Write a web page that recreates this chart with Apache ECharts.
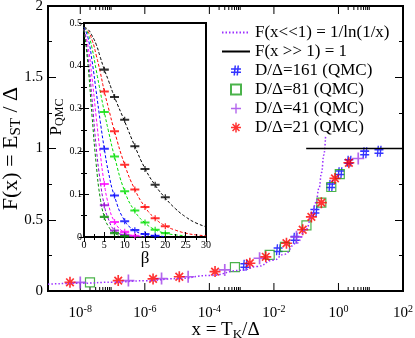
<!DOCTYPE html>
<html lang="en">
<head>
<meta charset="UTF-8" />
<title>F(x) = E_ST / Delta</title>
<style>
  html, body { margin: 0; padding: 0; background: #fff; }
  #main { width: 415px; height: 338px; }
</style>
</head>
<body>
<div id="main"></div>
<script src="https://cdn.jsdelivr.net/npm/echarts@6/dist/echarts.min.js"></script>
<script>
  var SERIF = "'Liberation Serif', 'DejaVu Serif', serif";

  // ---- main panel : x = T_K / Delta  ->  F(x)
  // curve F(x<<1)
  var smallXFit = [
    [1e-9, 0.048], [1e-8, 0.054], [1e-7, 0.062], [1e-6, 0.072], [1e-5, 0.087],
    [1e-4, 0.109], [1e-3, 0.145], [3e-3, 0.172], [1e-2, 0.217], [2e-2, 0.256],
    [5e-2, 0.334], [0.1, 0.434], [0.15, 0.527], [0.2, 0.621], [0.25, 0.721],
    [0.3, 0.831], [0.35, 0.952], [0.4, 1.09]
  ];
  var largeXFit = [[0.1, 1], [100, 1]];

  var qmc161 = [
    [1.26e-3, 0.18], [0.0135, 0.29], [0.045, 0.37], [0.186, 0.56], [0.575, 0.74],
    [1.1, 0.83], [2.1, 0.91], [6.5, 0.97], [18, 0.98]
  ];
  var qmc81 = [
    [2.0e-8, 0.06], [6.2e-4, 0.167], [7.4e-3, 0.254], [0.022, 0.31], [0.102, 0.46],
    [0.295, 0.62], [0.6, 0.73], [1.1, 0.82]
  ];
  var qmc41 = [
    [1.0e-8, 0.06], [3.1e-7, 0.073], [3.3e-6, 0.087], [2.2e-5, 0.10], [3.0e-4, 0.148],
    [3.6e-3, 0.23], [0.05, 0.38], [4.1, 0.93]
  ];
  var qmc21 = [
    [4.8e-9, 0.061], [1.5e-7, 0.073], [1.8e-6, 0.085], [1.17e-5, 0.10], [1.5e-4, 0.136],
    [1.8e-3, 0.195], [5.6e-3, 0.24], [0.0245, 0.335], [0.078, 0.43], [0.145, 0.52],
    [0.295, 0.62], [0.78, 0.79], [2.1, 0.90]
  ];

  // decade ticks of the log axis (drawn on bottom and top)
  var xMajorTicks = [1e-8, 1e-6, 1e-4, 1e-2, 1];
  var xMinorTicks = [
    2e-8, 3e-8, 4e-8, 5e-8, 6e-8, 7e-8, 8e-8, 9e-8,
    2e-4, 3e-4, 4e-4, 5e-4, 6e-4, 7e-4, 8e-4, 9e-4,
    2, 3, 4, 5, 6, 7, 8, 9
  ];

  // ---- inset : P_QMC vs beta
  var betaFit = [0, 1, 2, 3, 4, 5, 6, 7.5, 10, 12.5, 15, 17.5, 20, 22.5, 25, 27.5, 30];
  var fitBlack   = [0.49, 0.485, 0.47, 0.45, 0.42, 0.391, 0.366, 0.327, 0.270, 0.212, 0.160, 0.121, 0.091, 0.066, 0.047, 0.033, 0.024];
  var fitRed     = [0.49, 0.48, 0.46, 0.425, 0.385, 0.340, 0.302, 0.247, 0.169, 0.111, 0.070, 0.043, 0.026, 0.016, 0.009, 0.005, 0.003];
  var fitGreen   = [0.49, 0.475, 0.44, 0.39, 0.34, 0.292, 0.248, 0.188, 0.107, 0.060, 0.033, 0.017, 0.009, 0.005, 0.003];
  var fitBlue    = [0.49, 0.465, 0.41, 0.34, 0.27, 0.206, 0.152, 0.095, 0.038, 0.015, 0.006, 0.003, 0.001];
  var fitMagenta = [0.485, 0.445, 0.37, 0.28, 0.195, 0.124, 0.077, 0.036, 0.010, 0.003, 0.001];
  var fitViolet  = [0.485, 0.42, 0.32, 0.21, 0.13, 0.074, 0.042, 0.016, 0.004, 0.001, 0];
  var fitGreen4  = [0.485, 0.40, 0.28, 0.17, 0.09, 0.047, 0.025, 0.009, 0.002, 0, 0];

  var betaQmc = [5, 7.5, 10, 12.5, 15, 17.5, 20];
  var pBlack   = [0.391, 0.327, 0.274, 0.212, 0.159, 0.122, 0.093];
  var pRed     = [0.340, 0.247, 0.169, 0.111, 0.070, 0.044, 0.025];
  var pGreen   = [0.292, 0.188, 0.107, 0.062, 0.034, 0.017, 0.009];
  var pBlue    = [0.206, 0.097, 0.037, 0.016, 0.007, 0.003];
  var pMagenta = [0.124, 0.035, 0.012, 0.003];
  var pViolet  = [0.074, 0.015, 0.005];
  var pGreen4  = [0.047, 0.009, 0.002];

  // marker shapes
  var hashSym = 'path://M3.5,0h1.5l-1,10h-1.5z M6.5,0h1.5l-1,10h-1.5z M0,2.8h10v1.4h-10z M0,6h10v1.4h-10z';
  var plusSym = 'path://M4.3,0h1.4v10h-1.4z M0,4.3h10v1.4h-10z';
  var starSym = 'path://M4.25,0h1.5v10h-1.5z M0,4.25h10v1.5h-10z M1,2.1L2.1,1L9,7.9L7.9,9z M7.9,1L9,2.1L2.1,9L1,7.9z';
  var errSym  = 'path://M6,0h2v7h-2z M0,2.3h14v2.4h-14z';

  function pairs(xs, ys) {
    return ys.map(function (y, i) { return [xs[i], y]; });
  }

  function tickRenderer(len) {
    return function (params, api) {
      var x = api.coord([api.value(0), 1])[0];
      var cs = params.coordSys;
      var st = { stroke: '#000', lineWidth: 1 };
      return {
        type: 'group',
        children: [
          { type: 'line', shape: { x1: x, y1: cs.y + cs.height, x2: x, y2: cs.y + cs.height - len }, style: st },
          { type: 'line', shape: { x1: x, y1: cs.y, x2: x, y2: cs.y + len }, style: st }
        ]
      };
    };
  }

  function insetFit(name, ys, color) {
    return {
      name: name, type: 'line', xAxisIndex: 1, yAxisIndex: 2, z: 5,
      data: pairs(betaFit, ys), smooth: true, symbol: 'none', silent: true,
      lineStyle: { color: color, width: 1, type: [3, 2] }
    };
  }
  function insetQmc(name, ys, color) {
    return {
      name: name, type: 'scatter', xAxisIndex: 1, yAxisIndex: 2, z: 6,
      data: pairs(betaQmc, ys), symbol: errSym, symbolSize: [9, 6],
      itemStyle: { color: color }
    };
  }

  var insetTick = { inside: true, length: 5, lineStyle: { color: '#000' } };
  var insetMinor = { show: true, splitNumber: 2, length: 3, lineStyle: { color: '#000' } };

  var myChart = echarts.init(document.getElementById('main'));
  var option = {
    animation: false,
    backgroundColor: '#fff',
    grid: [
      {
        left: 48, top: 6, right: 12, bottom: 47, containLabel: false, outerBoundsMode: 'none',
        show: true, borderColor: '#000', borderWidth: 2, backgroundColor: 'transparent'
      },
      {
        left: 84, top: 23, width: 122, height: 214, containLabel: false, outerBoundsMode: 'none',
        show: true, borderColor: '#000', borderWidth: 2, backgroundColor: '#fff', z: 3
      }
    ],
    legend: [
      {
        data: ['F(x<<1) = 1/ln(1/x)', 'F(x >> 1) = 1'],
        orient: 'vertical', left: 216, top: 19, itemWidth: 28, itemHeight: 12, itemGap: 2,
        itemStyle: { opacity: 0 },
        textStyle: { fontFamily: SERIF, fontSize: 17, lineHeight: 17, color: '#000' },
        selectedMode: false
      },
      {
        data: ['D/\u0394=161 (QMC)', 'D/\u0394=81 (QMC)', 'D/\u0394=41 (QMC)', 'D/\u0394=21 (QMC)'],
        orient: 'vertical', left: 225, top: 57, itemWidth: 10, itemHeight: 10, itemGap: 2,
        textStyle: { fontFamily: SERIF, fontSize: 17, lineHeight: 17, color: '#000', padding: [0, 0, 0, 9] },
        selectedMode: false
      }
    ],
    xAxis: [
      {
        gridIndex: 0, type: 'log', min: 1e-9, max: 100, interval: 1, splitNumber: 11,
        axisLine: { show: false }, axisTick: { show: false }, splitLine: { show: false },
        axisLabel: {
          margin: 13,
          formatter: function (v) {
            var l = Math.log10(v), e = Math.round(l);
            if (Math.abs(l - e) > 1e-6 || e % 2 !== 0) return '';
            return '{b|10}{s|' + e + '}';
          },
          rich: {
            b: { fontFamily: SERIF, fontSize: 15, lineHeight: 19, color: '#000' },
            s: { fontFamily: SERIF, fontSize: 10, lineHeight: 10, color: '#000', verticalAlign: 'top' }
          }
        },
        name: '{a|x = T}{s|K}{a|/\u0394}', nameLocation: 'middle', nameGap: 28,
        nameMoveOverlap: false,
        nameTextStyle: {
          rich: {
            a: { fontFamily: SERIF, fontSize: 19, lineHeight: 22, color: '#000' },
            s: { fontFamily: SERIF, fontSize: 13, lineHeight: 13, color: '#000', verticalAlign: 'bottom' }
          }
        }
      },
      {
        gridIndex: 1, type: 'value', min: 0, max: 30, interval: 5, z: 6,
        axisLine: { show: false }, splitLine: { show: false },
        axisTick: insetTick, minorTick: insetMinor,
        axisLabel: { fontFamily: SERIF, fontSize: 10, color: '#000', margin: 3 },
        name: '\u03b2', nameLocation: 'middle', nameGap: 13, nameMoveOverlap: false,
        nameTextStyle: { fontFamily: SERIF, fontSize: 17, color: '#000' }
      },
      {
        gridIndex: 1, type: 'value', min: 0, max: 30, interval: 5, position: 'top', z: 6,
        axisLine: { show: false }, splitLine: { show: false }, axisLabel: { show: false },
        axisTick: insetTick, minorTick: insetMinor
      }
    ],
    yAxis: [
      {
        gridIndex: 0, type: 'value', min: 0, max: 2, interval: 0.5,
        axisLine: { show: false }, splitLine: { show: false },
        axisTick: { inside: true, length: 8, lineStyle: { color: '#000' } },
        minorTick: { show: true, splitNumber: 2, length: 4, lineStyle: { color: '#000' } },
        axisLabel: { fontFamily: SERIF, fontSize: 15, color: '#000', margin: 5 },
        name: '{a|F(x) = E}{s|ST}{a| / \u0394}', nameLocation: 'middle', nameGap: 24,
        nameMoveOverlap: false,
        nameTextStyle: {
          rich: {
            a: { fontFamily: SERIF, fontSize: 22, lineHeight: 26, color: '#000' },
            s: { fontFamily: SERIF, fontSize: 15, lineHeight: 15, color: '#000', verticalAlign: 'bottom' }
          }
        }
      },
      {
        gridIndex: 0, type: 'value', min: 0, max: 2, interval: 0.5, position: 'right',
        axisLine: { show: false }, splitLine: { show: false }, axisLabel: { show: false },
        axisTick: { inside: true, length: 8, lineStyle: { color: '#000' } },
        minorTick: { show: true, splitNumber: 2, length: 4, lineStyle: { color: '#000' } }
      },
      {
        gridIndex: 1, type: 'value', min: 0, max: 0.5, interval: 0.1, z: 6,
        axisLine: { show: false }, splitLine: { show: false },
        axisTick: insetTick, minorTick: insetMinor,
        axisLabel: { fontFamily: SERIF, fontSize: 10, color: '#000', margin: 2 },
        name: '{a|P}{s|QMC}', nameLocation: 'middle', nameGap: 12,
        nameTextStyle: {
          padding: [0, 0, 0, 26],
          rich: {
            a: { fontFamily: SERIF, fontSize: 17, lineHeight: 19, color: '#000' },
            s: { fontFamily: SERIF, fontSize: 12, lineHeight: 12, color: '#000', verticalAlign: 'bottom' }
          }
        }
      },
      {
        gridIndex: 1, type: 'value', min: 0, max: 0.5, interval: 0.1, position: 'right', z: 6,
        axisLine: { show: false }, splitLine: { show: false }, axisLabel: { show: false },
        axisTick: insetTick, minorTick: insetMinor
      }
    ],
    series: [
      {
        type: 'custom', xAxisIndex: 0, yAxisIndex: 0, silent: true, clip: false,
        data: xMajorTicks.map(function (v) { return [v, 1]; }), renderItem: tickRenderer(8)
      },
      {
        type: 'custom', xAxisIndex: 0, yAxisIndex: 0, silent: true, clip: false,
        data: xMinorTicks.map(function (v) { return [v, 1]; }), renderItem: tickRenderer(4)
      },
      {
        name: 'F(x<<1) = 1/ln(1/x)', type: 'line', xAxisIndex: 0, yAxisIndex: 0,
        data: smallXFit, smooth: true, smoothMonotone: 'x', symbol: 'none',
        itemStyle: { color: '#9b30ff' },
        lineStyle: { color: '#9b30ff', width: 1.5, type: [1.5, 2] }
      },
      {
        name: 'F(x >> 1) = 1', type: 'line', xAxisIndex: 0, yAxisIndex: 0,
        data: largeXFit, symbol: 'none',
        itemStyle: { color: '#000' },
        lineStyle: { color: '#000', width: 1.5 }
      },
      {
        name: 'D/\u0394=161 (QMC)', type: 'scatter', xAxisIndex: 0, yAxisIndex: 0,
        data: qmc161, symbol: hashSym, symbolSize: [9, 11], itemStyle: { color: '#0000ff' }
      },
      {
        name: 'D/\u0394=81 (QMC)', type: 'scatter', xAxisIndex: 0, yAxisIndex: 0,
        data: qmc81, symbol: 'rect', symbolSize: 9,
        itemStyle: { color: 'rgba(0,0,0,0)', borderColor: '#1ea01e', borderWidth: 1.2 }
      },
      {
        name: 'D/\u0394=41 (QMC)', type: 'scatter', xAxisIndex: 0, yAxisIndex: 0,
        data: qmc41, symbol: plusSym, symbolSize: 12, itemStyle: { color: '#a040e8' }
      },
      {
        name: 'D/\u0394=21 (QMC)', type: 'scatter', xAxisIndex: 0, yAxisIndex: 0,
        data: qmc21, symbol: starSym, symbolSize: 11, itemStyle: { color: '#ff0000' }
      },
      insetFit('fit black', fitBlack, '#000000'),
      insetFit('fit red', fitRed, '#ff0000'),
      insetFit('fit green', fitGreen, '#00dd00'),
      insetFit('fit blue', fitBlue, '#0000ff'),
      insetFit('fit magenta', fitMagenta, '#ff00ff'),
      insetFit('fit violet', fitViolet, '#9400d3'),
      insetFit('fit green4', fitGreen4, '#008b00'),
      insetQmc('P black', pBlack, '#000000'),
      insetQmc('P red', pRed, '#ff0000'),
      insetQmc('P green', pGreen, '#00dd00'),
      insetQmc('P blue', pBlue, '#0000ff'),
      insetQmc('P magenta', pMagenta, '#ff00ff'),
      insetQmc('P violet', pViolet, '#9400d3'),
      insetQmc('P green4', pGreen4, '#008b00')
    ]
  };
  myChart.setOption(option);
</script>
</body>
</html>
